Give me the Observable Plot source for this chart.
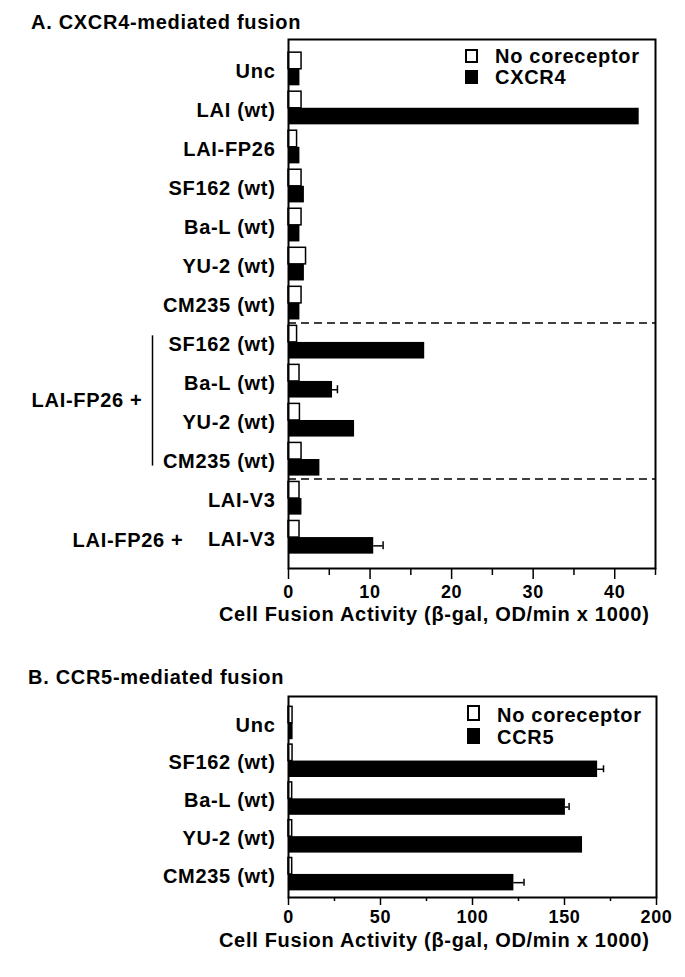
<!DOCTYPE html>
<html>
<head>
<meta charset="utf-8">
<script src="https://cdn.jsdelivr.net/npm/d3@7"></script>
<script src="https://cdn.jsdelivr.net/npm/@observablehq/plot@0.6"></script>
<style>
  body { margin: 0; background: #fff; font-family: "Liberation Sans", Arial, Helvetica, sans-serif; }
  #wrap { position: relative; width: 685px; height: 977px; overflow: hidden; background: #fff; }
  .t { position: absolute; font-weight: bold; font-size: 20px; letter-spacing: 0.7px; line-height: 22px; white-space: nowrap; color: #000; }
  .sq { position: absolute; box-sizing: border-box; border: 2px solid #000; background: #fff; }
  .sq.b { background: #000; }
  .plot { position: absolute; left: 0; }
</style>
</head>
<body>
<div id="wrap">
  <div class="t" style="left:31px;top:11px">A. CXCR4-mediated fusion</div>
  <div id="plotA" class="plot" style="top:33px"></div>
  <div class="t" style="left:28px;top:666px">B. CCR5-mediated fusion</div>
  <div id="plotB" class="plot" style="top:690px"></div>

  <div class="sq" style="left:465px;top:49px;width:13px;height:14px"></div>
  <div class="sq b" style="left:465px;top:70px;width:13px;height:14px"></div>
  <div class="t" style="left:495px;top:45px">No coreceptor</div>
  <div class="t" style="left:495px;top:66px">CXCR4</div>

  <div class="sq" style="left:467px;top:705px;width:13px;height:16px"></div>
  <div class="sq b" style="left:467px;top:728px;width:13px;height:16px"></div>
  <div class="t" style="left:497px;top:704px">No coreceptor</div>
  <div class="t" style="left:497px;top:726px">CCR5</div>
</div>
<script>
// ---------- Panel A data ----------
const rowsA = ["Unc", "LAI (wt)", "LAI-FP26", "SF162 (wt)", "Ba-L (wt)", "YU-2 (wt)", "CM235 (wt)",
               "SF162 (wt)", "Ba-L (wt)", "YU-2 (wt)", "CM235 (wt)", "LAI-V3", "LAI-V3"];
const noCoreceptorA = [1.6, 1.6, 1.05, 1.6, 1.6, 2.15, 1.6, 1.05, 1.35, 1.4, 1.6, 1.35, 1.35];
const cxcr4A        = [1.4, 43.0, 1.4, 1.95, 1.4, 1.95, 1.4, 16.7, 5.4, 8.1, 3.85, 1.65, 10.45];
const errHighA      = [null, null, null, null, null, null, null, null, 6.0, null, null, null, 11.6];
const separatorsA = [7, 11];          // dashed line drawn above these rows
const bracketA = [{from: 7, to: 10}]; // rows grouped by the "LAI-FP26 +" bracket
const groupLabelA = "LAI-FP26 +";
const ticksA = [0, 10, 20, 30, 40];
const minorTicksA = [5, 15, 25, 35, 45];
const xDomainA = [0, 45];

// ---------- Panel B data ----------
const rowsB = ["Unc", "SF162 (wt)", "Ba-L (wt)", "YU-2 (wt)", "CM235 (wt)"];
const noCoreceptorB = [2.2, 2.2, 2.0, 2.0, 2.0];
const ccr5B         = [2.5, 168.0, 150.5, 159.8, 122.5];
const errHighB      = [null, 171.2, 152.5, null, 128.0];
const ticksB = [0, 50, 100, 150, 200];
const minorTicksB = [25, 75, 125, 175];
const xDomainB = [0, 200];

const axisTitle = "Cell Fusion Activity (β-gal, OD/min x 1000)";

const style = {
  fontFamily: '"Liberation Sans", Arial, Helvetica, sans-serif',
  fontSize: "20px",
  fontWeight: "bold",
  letterSpacing: "0.7px",
  color: "#000",
  background: "#fff",
  overflow: "visible"
};

function bandGeom(height, mt, mb, it, ib, n, p) {
  const R = height - mt - mb - it - ib;
  const step = R / (n + p);
  return {step, bw: step * (1 - p)};
}

// ---------- Panel A ----------
{
  const height = 607, mt = 6, mb = 72, it = 7.3, ib = 8.5, pad = 0.15;
  const n = rowsA.length;
  const {step, bw} = bandGeom(height, mt, mb, it, ib, n, pad);
  const table = rowsA.map((label, i) => ({i, label, white: noCoreceptorA[i], black: cxcr4A[i], err: errHighA[i]}));
  const errs = table.filter(d => d.err != null);
  const capH = 8;
  const plot = Plot.plot({
    width: 685, height,
    marginLeft: 288, marginRight: 30, marginTop: mt, marginBottom: mb,
    style,
    x: {domain: xDomainA, label: null},
    y: {type: "band", domain: d3.range(n), padding: pad, insetTop: it, insetBottom: ib, round: false, label: null},
    marks: [
      Plot.barX(table, {x1: 0, x2: "white", y: "i", fill: "white", stroke: "black", strokeWidth: 1.5, insetBottom: bw / 2}),
      Plot.barX(table, {x1: 0, x2: "black", y: "i", fill: "black", insetTop: bw / 2}),
      Plot.ruleY(errs, {y: "i", x1: "black", x2: "err", dy: bw / 4, strokeWidth: 1.5}),
      Plot.tickX(errs, {x: "err", y: "i", insetTop: bw / 2 + (bw / 2 - capH) / 2, insetBottom: (bw / 2 - capH) / 2, strokeWidth: 1.5}),
      Plot.ruleY(separatorsA, {y: d => d, dy: -step / 2, strokeDasharray: "8,5", strokeWidth: 1.5}),
      Plot.ruleX(bracketA, {x: 0, y1: "from", y2: "to", dx: -136, insetTop: 10, insetBottom: 10, strokeWidth: 1.5}),
      Plot.text([groupLabelA], {x: 0, y: 8, text: d => d, dx: -146, dy: step / 2, textAnchor: "end"}),
      Plot.text([groupLabelA], {x: 0, y: 12, text: d => d, dx: -105, dy: 3, textAnchor: "end"}),
      Plot.axisY({tickSize: 0, tickPadding: 13, tickFormat: i => rowsA[i], label: null, dy: 2}),
      Plot.axisX({ticks: ticksA, tickSize: 11, tickPadding: 6, fontSize: 18, strokeWidth: 1.5, label: null}),
      Plot.axisX({ticks: minorTicksA, tickSize: 7, tickFormat: () => "", strokeWidth: 1.5, label: null}),
      Plot.text([axisTitle], {frameAnchor: "bottom-right", text: d => d, dx: -6, dy: 46, textAnchor: "end", lineAnchor: "middle"}),
      Plot.frame({stroke: "black", strokeWidth: 2})
    ]
  });
  document.getElementById("plotA").append(plot);
}

// ---------- Panel B ----------
{
  const height = 287, mt = 6, mb = 80, it = 5.4, ib = 1.7, pad = 0.13;
  const n = rowsB.length;
  const {step, bw} = bandGeom(height, mt, mb, it, ib, n, pad);
  const table = rowsB.map((label, i) => ({i, label, white: noCoreceptorB[i], black: ccr5B[i], err: errHighB[i]}));
  const errs = table.filter(d => d.err != null);
  const capH = 7;
  const plot = Plot.plot({
    width: 685, height,
    marginLeft: 288, marginRight: 29, marginTop: mt, marginBottom: mb,
    style,
    x: {domain: xDomainB, label: null},
    y: {type: "band", domain: d3.range(n), padding: pad, insetTop: it, insetBottom: ib, round: false, label: null},
    marks: [
      Plot.barX(table, {x1: 0, x2: "white", y: "i", fill: "white", stroke: "black", strokeWidth: 1.5, insetBottom: bw / 2}),
      Plot.barX(table, {x1: 0, x2: "black", y: "i", fill: "black", insetTop: bw / 2}),
      Plot.ruleY(errs, {y: "i", x1: "black", x2: "err", dy: bw / 4, strokeWidth: 1.5}),
      Plot.tickX(errs, {x: "err", y: "i", insetTop: bw / 2 + (bw / 2 - capH) / 2, insetBottom: (bw / 2 - capH) / 2, strokeWidth: 1.5}),
      Plot.axisY({tickSize: 0, tickPadding: 13, tickFormat: i => rowsB[i], label: null, dy: 2}),
      Plot.axisX({ticks: ticksB, tickSize: 8, tickPadding: 5, fontSize: 18, strokeWidth: 1.5, label: null}),
      Plot.axisX({ticks: minorTicksB, tickSize: 4, tickFormat: () => "", strokeWidth: 1.5, label: null}),
      Plot.text([axisTitle], {frameAnchor: "bottom-right", text: d => d, dx: -7, dy: 43, textAnchor: "end", lineAnchor: "middle"}),
      Plot.frame({stroke: "black", strokeWidth: 2})
    ]
  });
  document.getElementById("plotB").append(plot);
}
</script>
</body>
</html>
